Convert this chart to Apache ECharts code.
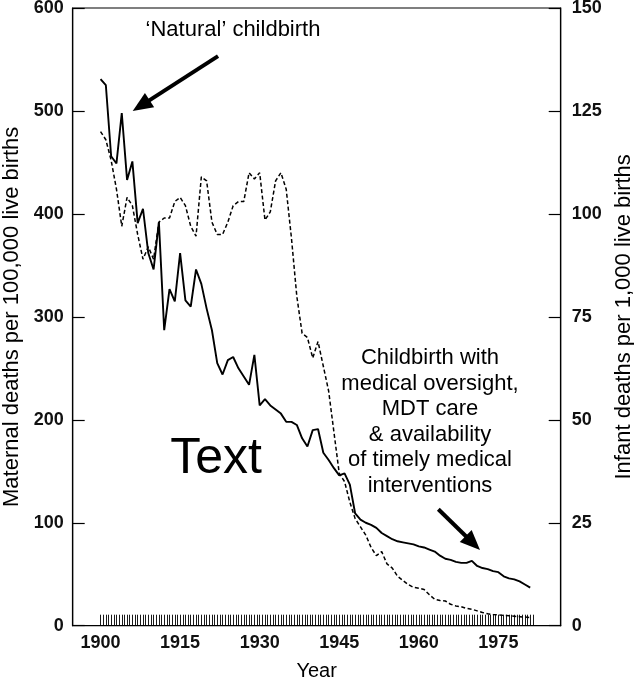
<!DOCTYPE html>
<html>
<head>
<meta charset="utf-8">
<script src="https://cdn.jsdelivr.net/npm/echarts@6/dist/echarts.min.js"></script>
<style>
html,body{margin:0;padding:0;background:#fff;}
#chart{width:634px;height:680px;}
</style>
</head>
<body>
<div id="chart"></div>
<script>
// Years of the annual series
const years = [1900,1901,1902,1903,1904,1905,1906,1907,1908,1909,
  1910,1911,1912,1913,1914,1915,1916,1917,1918,1919,
  1920,1921,1922,1923,1924,1925,1926,1927,1928,1929,
  1930,1931,1932,1933,1934,1935,1936,1937,1938,1939,
  1940,1941,1942,1943,1944,1945,1946,1947,1948,1949,
  1950,1951,1952,1953,1954,1955,1956,1957,1958,1959,
  1960,1961,1962,1963,1964,1965,1966,1967,1968,1969,
  1970,1971,1972,1973,1974,1975,1976,1977,1978,1979,
  1980,1981];

// Maternal deaths per 100,000 live births (left axis, solid line)
const maternal = [531,525,456,449,498,433,451,391,405,362,
  346,392,287,327,315,362,316,310,346,332,
  308,287,255,244,258,261,250,242,234,263,
  214,220,214,210,206,198,198,195,182,174,
  190,191,168,161,153,146,148,137,109,103,
  100,98,95,90,87,84,82,81,80,79,
  77,76,74,72,68,65,64,62,61,61,
  63,58,56,55,53,52,48,46,45,43,
  40,37];

// Infant deaths per 1,000 live births (right axis, dashed line)
const infant = [120,118,113,106,97,104,102,95,89,92,
  89,98,99,99,103,104,102,97,94.6,109,
  108,98,95,95,98,102,103,103,110,108.5,
  110,98.5,100.5,108,110,106,94,80,71,70,
  65,69,63,57,47,37,35,30,26,24,
  22,19,17,18,15,14,12,11,10,9.3,
  9.1,8.8,7.5,6.4,6.1,6,5.2,4.8,4.6,4.2,
  4.0,3.6,3.2,2.9,2.7,2.6,2.5,2.4,2.3,2.2,
  2.1,2.0];

const xTickLabels = [1900,1915,1930,1945,1960,1975];
const leftAxis = {min:0, max:600, interval:100};
const rightAxis = {min:0, max:150, interval:25};

const annotationTop = "\u2018Natural\u2019 childbirth";
const annotationRight = "Childbirth with\nmedical oversight,\nMDT care\n& availability\nof timely medical\ninterventions";
const centerText = "Text";

// Decorative hatch ticks along the bottom axis (axis ticks, not data)
const hatch = [];
for (let v = 1900; v <= 1981.6; v += 0.5) hatch.push(+v.toFixed(2));

const FONT = '"Liberation Sans", Arial, Helvetica, sans-serif';
const chart = echarts.init(document.getElementById('chart'), null, {renderer:'canvas'});

const maternalData = years.map((y,i)=>[y, maternal[i]]);
const infantData = years.map((y,i)=>[y, infant[i]]);

chart.setOption({
  animation:false,
  backgroundColor:'#fff',
  grid:{left:72.7, right:73.3, top:8, bottom:54.3, containLabel:false, outerBoundsMode:'none',
        show:true, borderColor:'#000', borderWidth:1.2, backgroundColor:'transparent'},
  xAxis:[{
    type:'value', min:1894.75, max:1986.75,
    name:'Year', nameLocation:'middle', nameGap:36,
    nameTextStyle:{fontFamily:FONT, fontSize:20, color:'#000'},
    axisLine:{show:true, onZero:false, lineStyle:{color:'#000', width:1.2}},
    axisTick:{show:false},
    axisLabel:{customValues:xTickLabels, formatter:(v)=>String(Math.round(v)),
               fontFamily:FONT, fontSize:18, fontWeight:'bold', color:'#111', margin:8},
    splitLine:{show:false}
  },{
    type:'value', min:1894.75, max:1986.75, position:'bottom',
    axisLine:{show:false},
    axisLabel:{show:false},
    axisTick:{show:true, inside:true, length:11, customValues:hatch, lineStyle:{color:'#000', width:0.9}},
    splitLine:{show:false}
  }],
  yAxis:[{
    type:'value', min:leftAxis.min, max:leftAxis.max, interval:leftAxis.interval, position:'left',
    name:'Maternal deaths per 100,000 live births', nameLocation:'middle', nameRotate:90, nameGap:41,
    nameTextStyle:{fontFamily:FONT, fontSize:22, color:'#000'},
    axisLine:{show:true, onZero:false, lineStyle:{color:'#000', width:1.2}},
    axisTick:{show:true, inside:true, length:12, lineStyle:{color:'#000', width:1.2}},
    axisLabel:{fontFamily:FONT, fontSize:18, fontWeight:'bold', color:'#111', margin:9},
    splitLine:{show:false}
  },{
    type:'value', min:rightAxis.min, max:rightAxis.max, interval:rightAxis.interval, position:'right',
    name:'Infant deaths per 1,000 live births', nameLocation:'middle', nameRotate:90, nameGap:49,
    nameTextStyle:{fontFamily:FONT, fontSize:22, color:'#000'},
    axisLine:{show:true, onZero:false, lineStyle:{color:'#000', width:1.2}},
    axisTick:{show:true, inside:true, length:12, lineStyle:{color:'#000', width:1.2}},
    axisLabel:{fontFamily:FONT, fontSize:18, fontWeight:'bold', color:'#111', margin:11},
    splitLine:{show:false}
  }],
  series:[{
    name:'Maternal', type:'line', xAxisIndex:0, yAxisIndex:0, data:maternalData,
    showSymbol:false, symbol:'none', lineStyle:{color:'#000', width:1.9}, z:3,
    markLine:{
      silent:true, animation:false,
      symbol:['none','triangle'], symbolSize:[17,20],
      label:{show:false},
      lineStyle:{color:'#000', width:4, type:'solid'},
      data:[
        [{coord:[1922.15,553.3]},{coord:[1907.65,505.2]}],
        [{coord:[1963.68,113.1]},{coord:[1970.19,80.3]}]
      ]
    }
  },{
    name:'Infant', type:'line', xAxisIndex:0, yAxisIndex:1, data:infantData,
    showSymbol:false, symbol:'none', lineStyle:{color:'#000', width:1.5, type:[4,2.5]}, z:2
  }],
  graphic:[
    {type:'text', x:233, y:30, style:{text:annotationTop, fontFamily:FONT, fontSize:22, fill:'#000', align:'center', verticalAlign:'middle'}},
    {type:'text', x:430, y:422, style:{text:annotationRight, fontFamily:FONT, fontSize:22, lineHeight:25.5, fill:'#000', align:'center', verticalAlign:'middle'}},
    {type:'text', x:216, y:459, style:{text:centerText, fontFamily:FONT, fontSize:50, fill:'#000', align:'center', verticalAlign:'middle'}}
  ]
});
</script>
</body>
</html>
